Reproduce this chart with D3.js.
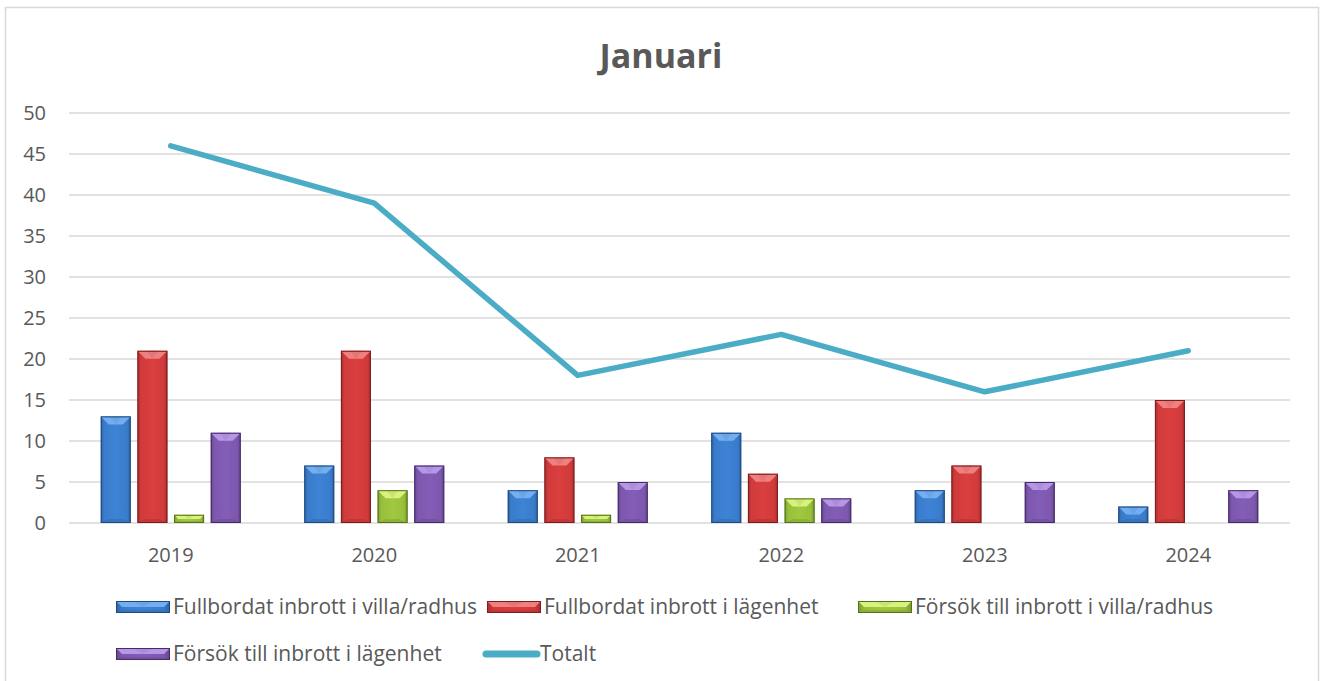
<!DOCTYPE html>
<html>
<head>
<meta charset="utf-8">
<script src="https://cdn.jsdelivr.net/npm/d3@7"></script>
<style>
  body { margin: 0; background: #fff; }
  text { font-family: "Open Sans", "Noto Sans", sans-serif; fill: #595959; }
</style>
</head>
<body>
<svg id="chart" width="1320" height="681"></svg>
<script>
// data
var years = ['2019', '2020', '2021', '2022', '2023', '2024'];
var seriesNames = [
  'Fullbordat inbrott i villa/radhus',
  'Fullbordat inbrott i lägenhet',
  'Försök till inbrott i villa/radhus',
  'Försök till inbrott i lägenhet'
];
var villaFull   = [13, 7, 4, 11, 4, 2];
var lghFull     = [21, 21, 8, 6, 7, 15];
var villaForsok = [1, 4, 1, 3, 0, 0];
var lghForsok   = [11, 7, 5, 3, 5, 4];
var totalt      = [46, 39, 18, 23, 16, 21];
var yTicks = [0, 5, 10, 15, 20, 25, 30, 35, 40, 45, 50];

var barColors = [
  {base: '#3a7ccb', light: '#74aef0', dark: '#1d4a80'},
  {base: '#d03b3b', light: '#f07f7f', dark: '#7c1c1c'},
  {base: '#98bf3c', light: '#d8f27e', dark: '#557019'},
  {base: '#7d58ad', light: '#b597e6', dark: '#452b6a'}
];
var lineColor = '#4bacc6';

var svg = d3.select('#chart');
var defs = svg.append('defs');

barColors.forEach(function(c, i){
  var g = defs.append('linearGradient')
      .attr('id', 'grad' + i)
      .attr('x1', '0%').attr('x2', '100%').attr('y1', '0%').attr('y2', '0%');
  g.append('stop').attr('offset', '0%').attr('stop-color', d3.color(c.base).darker(0.6));
  g.append('stop').attr('offset', '12%').attr('stop-color', c.base);
  g.append('stop').attr('offset', '50%').attr('stop-color', d3.color(c.base).brighter(0.15));
  g.append('stop').attr('offset', '88%').attr('stop-color', c.base);
  g.append('stop').attr('offset', '100%').attr('stop-color', d3.color(c.base).darker(0.7));
});

// outer frame
svg.append('rect')
  .attr('x', 5.5).attr('y', 7.5)
  .attr('width', 1313).attr('height', 690)
  .attr('fill', '#fff')
  .attr('stroke', '#d9d9d9')
  .attr('stroke-width', 1.5);

svg.append('text')
  .attr('x', 661).attr('y', 68)
  .attr('text-anchor', 'middle')
  .style('font-size', '34px')
  .style('font-weight', 'bold')
  .text('Januari');

var x = d3.scaleBand().domain(years).range([69, 1290]).padding(0);
var xi = d3.scaleBand().domain(d3.range(4))
  .range([0, x.bandwidth()])
  .paddingInner(0.182)
  .paddingOuter(0.866);
var y = d3.scaleLinear().domain([0, 50]).range([523, 113]);

// gridlines
svg.append('g').selectAll('line')
  .data(yTicks)
  .enter().append('line')
  .attr('x1', 69).attr('x2', 1290)
  .attr('y1', function(d){ return y(d); })
  .attr('y2', function(d){ return y(d); })
  .attr('stroke', '#d9d9d9')
  .attr('stroke-width', 1.5);

// y labels
svg.append('g').selectAll('text')
  .data(yTicks)
  .enter().append('text')
  .attr('x', 46)
  .attr('y', function(d){ return y(d); })
  .attr('dy', '0.36em')
  .attr('text-anchor', 'end')
  .style('font-size', '20px')
  .text(function(d){ return d; });

// x labels
svg.append('g').selectAll('text')
  .data(years)
  .enter().append('text')
  .attr('x', function(d){ return x(d) + x.bandwidth() / 2; })
  .attr('y', 562)
  .attr('text-anchor', 'middle')
  .style('font-size', '20px')
  .text(function(d){ return d; });

function bevelBar(g, bx, by, bw, bh, ci){
  var c = barColors[ci];
  if (bh <= 0) return;
  var b = Math.min(8, bh / 2, bw / 3);
  g.append('rect')
    .attr('x', bx).attr('y', by).attr('width', bw).attr('height', bh)
    .attr('fill', 'url(#grad' + ci + ')');
  // top bevel
  g.append('path')
    .attr('d', 'M' + bx + ',' + by + 'L' + (bx + bw) + ',' + by +
               'L' + (bx + bw - b) + ',' + (by + b) + 'L' + (bx + b) + ',' + (by + b) + 'Z')
    .attr('fill', c.light);
  g.append('path')
    .attr('d', 'M' + (bx + bw * 0.3) + ',' + by + 'L' + (bx + bw * 0.7) + ',' + by +
               'L' + (bx + bw / 2) + ',' + (by + b) + 'Z')
    .attr('fill', d3.color(c.light).darker(0.25))
    .attr('opacity', 0.7);
  // bottom bevel
  g.append('path')
    .attr('d', 'M' + bx + ',' + (by + bh) + 'L' + (bx + bw) + ',' + (by + bh) +
               'L' + (bx + bw - b) + ',' + (by + bh - b * 0.5) + 'L' + (bx + b) + ',' + (by + bh - b * 0.5) + 'Z')
    .attr('fill', d3.color(c.base).darker(0.4))
    .attr('opacity', 0.6);
  g.append('rect')
    .attr('x', bx + 0.5).attr('y', by + 0.5).attr('width', bw - 1).attr('height', bh - 1)
    .attr('fill', 'none')
    .attr('stroke', c.dark)
    .attr('stroke-width', 1);
}

var seriesData = [villaFull, lghFull, villaForsok, lghForsok];
var bars = svg.append('g');
seriesData.forEach(function(vals, si){
  vals.forEach(function(v, yi){
    var bx = x(years[yi]) + xi(si);
    bevelBar(bars, bx, y(v), xi.bandwidth(), y(0) - y(v), si);
  });
});

// total line
var line = d3.line()
  .x(function(d, i){ return x(years[i]) + x.bandwidth() / 2; })
  .y(function(d){ return y(d); });
svg.append('path')
  .datum(totalt)
  .attr('d', line)
  .attr('fill', 'none')
  .attr('stroke', lineColor)
  .attr('stroke-width', 5.5)
  .attr('stroke-linecap', 'round')
  .attr('stroke-linejoin', 'round');

// legend
var legendItems = [
  {name: seriesNames[0], type: 'bar', ci: 0, col: 0, row: 0},
  {name: seriesNames[1], type: 'bar', ci: 1, col: 1, row: 0},
  {name: seriesNames[2], type: 'bar', ci: 2, col: 2, row: 0},
  {name: seriesNames[3], type: 'bar', ci: 3, col: 0, row: 1},
  {name: 'Totalt', type: 'line', col: 1, row: 1}
];
var legend = svg.append('g');
legendItems.forEach(function(d){
  var lx = d.col == 0 ? 116 : 116 + d.col * 371 - (d.type == 'line' ? 4 : 0), ly = 607 + d.row * 47;
  if (d.type == 'bar') {
    bevelBar(legend, lx, ly - 6, 54, 12, d.ci);
  } else {
    legend.append('line')
      .attr('x1', lx + 3).attr('x2', lx + 54)
      .attr('y1', ly).attr('y2', ly)
      .attr('stroke', lineColor)
      .attr('stroke-width', 7)
      .attr('stroke-linecap', 'round');
  }
  legend.append('text')
    .attr('x', lx + 57)
    .attr('y', ly)
    .attr('dy', '0.35em')
    .style('font-size', '21px')
    .text(d.name);
});
</script>
</body>
</html>
